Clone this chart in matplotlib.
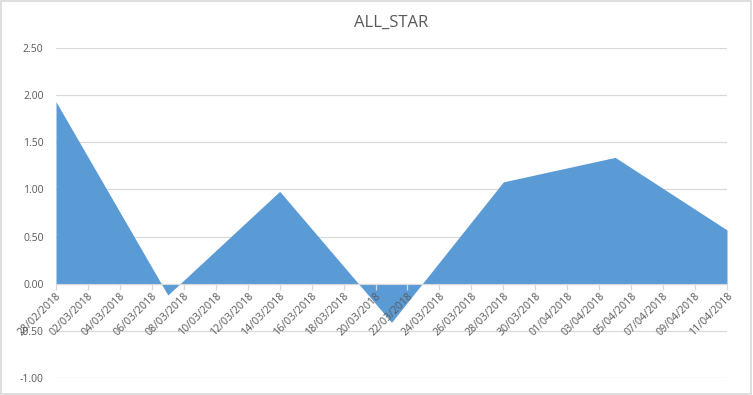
import matplotlib
matplotlib.use("Agg")
import matplotlib.pyplot as plt
import matplotlib.dates as mdates
from matplotlib.patches import Rectangle
import pandas as pd

# ── Data (weekly values) ──────────────────────────────────────────────
dates = pd.to_datetime(['2018-02-28', '2018-03-07', '2018-03-14', '2018-03-21',
                        '2018-03-28', '2018-04-04', '2018-04-11'])
values = [1.93, -0.12, 0.98, -0.41, 1.08, 1.34, 0.57]
title = 'ALL_STAR'
y_ticks = [-1.0, -0.5, 0.0, 0.5, 1.0, 1.5, 2.0, 2.5]

# ── Style ─────────────────────────────────────────────────────────────
BLUE = '#5B9BD5'
GRID = '#D9D9D9'
TXT = '#595959'
plt.rcParams['font.family'] = ['Open Sans', 'DejaVu Sans']

fig = plt.figure(figsize=(7.53, 3.95), dpi=100)
ax = fig.add_axes([56/753, 17/395, 671/753, 330/395])

ax.fill_between(dates, values, 0, color=BLUE, linewidth=0, zorder=3)

x_ticks = pd.date_range(dates[0], dates[-1], freq='2D')
ax.set_xlim(dates[0], dates[-1])
ax.set_ylim(-1.0, 2.5)
ax.set_xticks(x_ticks)
ax.xaxis.set_major_formatter(mdates.DateFormatter('%d/%m/%Y'))
ax.set_yticks(y_ticks)
ax.set_yticklabels([f'{v:.2f}' for v in y_ticks])

# horizontal gridlines below the area, date axis drawn over it
ax.grid(axis='y', color=GRID, linewidth=0.9)
ax.yaxis.set_zorder(0.5)
ax.xaxis.set_zorder(5)
for s in ['left', 'right', 'top']:
    ax.spines[s].set_visible(False)
ax.spines['bottom'].set_position(('data', 0))
ax.spines['bottom'].set_color(GRID)
ax.spines['bottom'].set_zorder(4)

ax.tick_params(axis='x', direction='out', length=4, color=GRID, width=0.9,
               labelsize=7.7, labelcolor=TXT, pad=1)
ax.tick_params(axis='y', length=0, labelsize=7.5, labelcolor=TXT, pad=9)
for lbl in ax.get_xticklabels():
    lbl.set_rotation(45)
    lbl.set_ha('right')
    lbl.set_rotation_mode('anchor')

ax.set_title(title, fontsize=12, color=TXT, pad=15)

# chart area border
fig.patches.append(Rectangle((0.001, 0.002), 0.997, 0.995, transform=fig.transFigure,
                             fill=False, edgecolor=GRID, linewidth=1.2))

fig.savefig('out.png', dpi=100)
